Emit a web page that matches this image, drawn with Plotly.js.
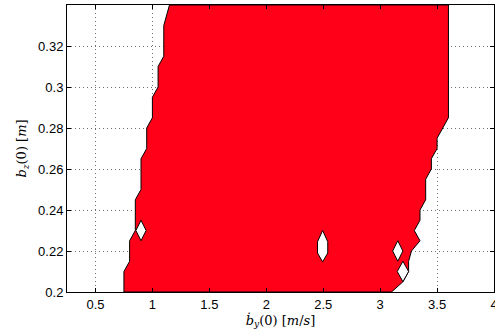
<!DOCTYPE html>
<html>
<head>
<meta charset="utf-8">
<script src="https://cdn.plot.ly/plotly-3.0.1.min.js"></script>
<style>html,body{margin:0;padding:0;background:#fff;}#chart{width:495px;height:334px;}</style>
</head>
<body>
<div id="chart"></div>
<script>
// Left boundary of the stable (red) region, bottom to top
const leftX = [0.75, 0.75, 0.80, 0.80, 0.85, 0.85, 0.90, 0.90, 0.95, 0.95, 1.00, 1.00, 1.05, 1.05, 1.10, 1.10, 1.15];
const leftY = [0.200, 0.210, 0.215, 0.225, 0.230, 0.245, 0.250, 0.265, 0.270, 0.280, 0.285, 0.295, 0.300, 0.310, 0.315, 0.330, 0.340];
// Right boundary, top to bottom
const rightX = [3.60, 3.60, 3.50, 3.50, 3.45, 3.45, 3.40, 3.40, 3.35, 3.35, 3.30, 3.35, 3.275, 3.25, 3.25, 3.20, 3.10];
const rightY = [0.340, 0.285, 0.275, 0.270, 0.265, 0.260, 0.255, 0.245, 0.240, 0.235, 0.230, 0.225, 0.220, 0.215, 0.210, 0.205, 0.200];
// Unstable holes inside the region
const hole1X = [0.855, 0.90, 0.945, 0.90, 0.855];
const hole1Y = [0.230, 0.235, 0.230, 0.225, 0.230];
const hole2X = [2.495, 2.45, 2.45, 2.495, 2.54, 2.54, 2.495];
const hole2Y = [0.2300, 0.2245, 0.2190, 0.2147, 0.2190, 0.2245, 0.2300];
const hole3X = [3.11, 3.155, 3.20, 3.155, 3.11];
const hole3Y = [0.220, 0.225, 0.220, 0.215, 0.220];
const hole4X = [3.15, 3.20, 3.25, 3.20, 3.15];
const hole4Y = [0.210, 0.215, 0.210, 0.205, 0.210];

const xTicks = [0.5, 1, 1.5, 2, 2.5, 3, 3.5, 4];
const xTickText = ['0.5', '1', '1.5', '2', '2.5', '3', '3.5', '4'];
const yTicks = [0.2, 0.22, 0.24, 0.26, 0.28, 0.3, 0.32];
const yTickText = ['0.2', '0.22', '0.24', '0.26', '0.28', '0.3', '0.32'];

const red = 'rgb(255,0,24)';
const outerX = leftX.concat(rightX, [leftX[0]]);
const outerY = leftY.concat(rightY, [leftY[0]]);

function hole(xs, ys) {
  return {x: xs, y: ys, type: 'scatter', mode: 'lines', fill: 'toself',
          fillcolor: '#ffffff', line: {color: '#000', width: 1}, hoverinfo: 'skip', showlegend: false};
}

const traces = [
  {x: outerX, y: outerY, type: 'scatter', mode: 'lines', fill: 'toself',
   fillcolor: red, line: {color: '#000', width: 1}, hoverinfo: 'skip', showlegend: false},
  hole(hole1X, hole1Y), hole(hole2X, hole2Y), hole(hole3X, hole3Y), hole(hole4X, hole4Y)
];

const axisCommon = {
  showline: true, linecolor: '#000', linewidth: 1, mirror: 'ticks',
  ticks: 'inside', ticklen: 4, tickcolor: '#000', tickwidth: 1,
  showgrid: true, gridcolor: 'rgb(110,110,110)', gridwidth: 1, griddash: '1px,3px',
  zeroline: false, ticklabeloverflow: 'allow',
  tickfont: {family: 'Liberation Sans, Arial, sans-serif', size: 13, color: '#000'}
};

const titleFont = {family: 'DejaVu Serif, Liberation Serif, serif', size: 13, color: '#000'};

const layout = {
  width: 495, height: 334,
  margin: {l: 67, r: 1, t: 5, b: 42},
  paper_bgcolor: '#fff', plot_bgcolor: '#fff',
  xaxis: Object.assign({}, axisCommon, {
    range: [0.25, 4], tickvals: xTicks, ticktext: xTickText,
    title: {text: '<i>\u1E03</i><sub><i>y</i></sub>(0) [<i>m</i>/<i>s</i>]', standoff: 3, font: titleFont}
  }),
  yaxis: Object.assign({}, axisCommon, {
    range: [0.2, 0.34], tickvals: yTicks, ticktext: yTickText,
    title: {text: '<i>b</i><sub><i>z</i></sub>(0) [<i>m</i>]', standoff: 8, font: titleFont}
  }),
  showlegend: false
};

Plotly.newPlot('chart', traces, layout, {staticPlot: true, displayModeBar: false});
</script>
</body>
</html>
